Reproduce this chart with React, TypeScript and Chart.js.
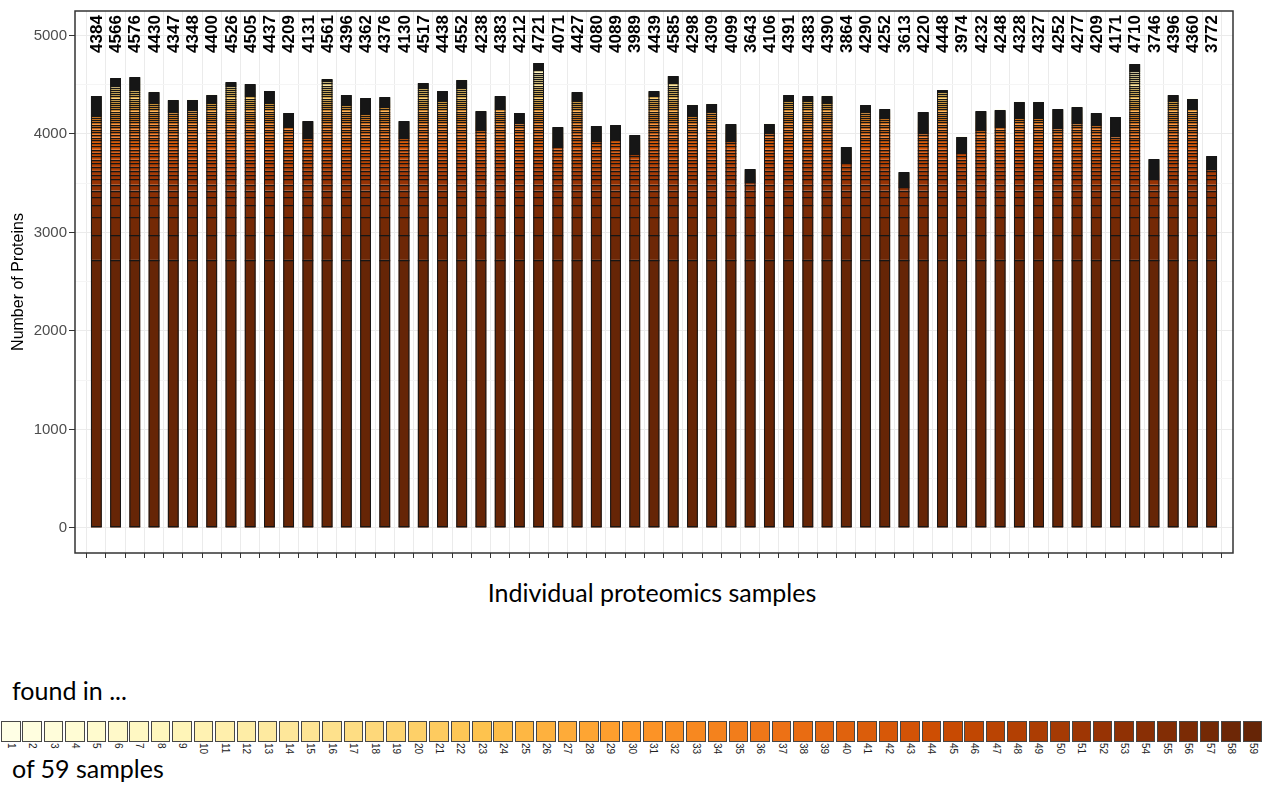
import React, { useEffect, useRef } from 'react';
import { Chart, registerables } from 'chart.js';

Chart.register(...registerables);

// ---------------- DATA ----------------
// sample positions (individual proteomics samples, 59 of them)
const samples: number[] = Array.from({ length: 59 }, (_, i) => i + 1);

// total number of proteins per sample (labels above bars)
const totals: number[] = [
  4384, 4566, 4576, 4430, 4347, 4348, 4400, 4526, 4505, 4437,
  4209, 4131, 4561, 4396, 4362, 4376, 4130, 4517, 4438, 4552,
  4238, 4383, 4212, 4721, 4071, 4427, 4080, 4089, 3989, 4439,
  4585, 4298, 4309, 4099, 3643, 4106, 4391, 4383, 4390, 3864,
  4290, 4252, 3613, 4220, 4448, 3974, 4232, 4248, 4328, 4327,
  4252, 4277, 4209, 4171, 4710, 3746, 4396, 4360, 3772,
];

// level (number of proteins) where the frequent-protein (coloured) part of each bar ends;
// above it the rare proteins form the thin, black-outlined cap
const coloredTop: number[] = [
  4197, 4500, 4446, 4315, 4230, 4245, 4320, 4485, 4385, 4315,
  4080, 3960, 4540, 4295, 4215, 4280, 3960, 4475, 4330, 4480,
  4045, 4255, 4110, 4650, 3870, 4330, 3930, 3940, 3800, 4400,
  4530, 4180, 4230, 3930, 3510, 4010, 4345, 4340, 4315, 3710,
  4230, 4165, 3460, 4010, 4430, 3810, 4050, 4085, 4165, 4165,
  4060, 4110, 4095, 3980, 4640, 3540, 4335, 4265, 3640,
];

// "found in k of 59 samples" classes, bottom of the stack first (59 ... 1)
const foundInClasses: number[] = [
  59, 58, 57, 56, 55, 54, 53, 52, 51, 50, 49, 48, 47, 46, 45, 44, 43, 42, 41, 40,
  39, 38, 37, 36, 35, 34, 33, 32, 31, 30, 29, 28, 27, 26, 25, 24, 23, 22, 21, 20,
  19, 18, 17, 16, 15, 14, 13, 12, 11, 10, 9, 8, 7, 6, 5, 4, 3, 2, 1,
];

// typical segment size (proteins per sample) for each class, same order as foundInClasses
const classSizes: number[] = [
  2722, 252, 180, 122, 82, 68, 60, 52, 46, 42,
  40, 38, 36, 35, 34, 33, 32, 31, 30, 29,
  28, 27, 26, 25, 24, 23, 22, 22, 22, 22,
  22, 22, 22, 22, 22, 22, 22, 22, 22, 22,
  22, 22, 22, 22, 22, 22, 22, 22, 22, 22,
  22, 16, 16, 16, 16, 16, 16, 16, 16,
];

// legend classes 1..59
const legendClasses: number[] = foundInClasses.slice().reverse();

const yTicks: number[] = [0, 500, 1000, 1500, 2000, 2500, 3000, 3500, 4000, 4500, 5000];

// ---------------- STYLE ----------------
const YLORBR = ['#ffffe5', '#fff7bc', '#fee391', '#fec44f', '#fe9929', '#ec7014', '#cc4c02', '#993404', '#662506'];
function hexToRgb(h: string) {
  return [parseInt(h.slice(1, 3), 16), parseInt(h.slice(3, 5), 16), parseInt(h.slice(5, 7), 16)];
}
function paletteAt(t: number): string {
  const pos = t * (YLORBR.length - 1);
  const i = Math.min(Math.floor(pos), YLORBR.length - 2);
  const f = pos - i;
  const a = hexToRgb(YLORBR[i]);
  const b = hexToRgb(YLORBR[i + 1]);
  const c = a.map((v, j) => Math.round(v + (b[j] - v) * f));
  return `rgb(${c[0]},${c[1]},${c[2]})`;
}
function colorForClass(k: number) {
  return paletteAt((k - 1) / 58);
}

const SANS = '"Liberation Sans", Arial, sans-serif';
const TEXT_FONT = 'Lato, "Open Sans", sans-serif';
const LABEL_Y = 5015;

// build per-sample stacked values: fill classes from 59 downward up to coloredTop,
// rare remainder shared by the classes left above it
function buildStacks(): number[][] {
  const res: number[][] = foundInClasses.map(() => samples.map(() => 0));
  samples.forEach((_, s) => {
    const top = coloredTop[s];
    let acc = 0;
    let c = 0;
    for (; c < foundInClasses.length; c++) {
      const size = classSizes[c];
      if (acc + size >= top) {
        res[c][s] = top - acc;
        acc = top;
        c++;
        break;
      }
      res[c][s] = size;
      acc += size;
    }
    const restCount = foundInClasses.length - c;
    const cap = totals[s] - acc;
    if (restCount > 0) {
      for (let j = c; j < foundInClasses.length; j++) res[j][s] = cap / restCount;
    } else {
      res[foundInClasses.length - 1][s] += cap;
    }
  });
  return res;
}

// outline each stacked segment (like ggplot colour = "black")
const segmentOutlinePlugin = {
  id: 'segmentOutline',
  afterDatasetsDraw(chart: any) {
    const { ctx } = chart;
    const n = chart.data.datasets.length;
    ctx.save();
    ctx.strokeStyle = '#161616';
    samples.forEach((_, i) => {
      const first = chart.getDatasetMeta(0).data[i];
      const last = chart.getDatasetMeta(n - 1).data[i];
      if (!first || !last) return;
      const half = first.width / 2;
      const x0 = first.x - half;
      const x1 = first.x + half;
      ctx.lineWidth = 1.25;
      ctx.beginPath();
      for (let d = 0; d < n; d++) {
        const el = chart.getDatasetMeta(d).data[i];
        const yy = Math.round(el.y) + 0.5;
        ctx.moveTo(x0, yy);
        ctx.lineTo(x1, yy);
      }
      const yb = Math.round(first.base) - 0.5;
      ctx.moveTo(x0, yb);
      ctx.lineTo(x1, yb);
      ctx.stroke();
      ctx.lineWidth = 1;
      ctx.beginPath();
      const yt = Math.round(last.y) + 0.5;
      ctx.rect(x0 + 0.5, yt, x1 - x0 - 1, yb - yt);
      ctx.stroke();
    });
    ctx.restore();
  },
};

const totalsLabelPlugin = {
  id: 'totalsLabels',
  afterDatasetsDraw(chart: any) {
    const { ctx, scales } = chart;
    const x = scales.x;
    const y = scales.y;
    ctx.save();
    ctx.font = `bold 17px ${SANS}`;
    ctx.fillStyle = '#000';
    ctx.textAlign = 'center';
    ctx.textBaseline = 'middle';
    totals.forEach((t, i) => {
      const px = x.getPixelForValue(samples[i]);
      const py = y.getPixelForValue(LABEL_Y);
      ctx.save();
      ctx.translate(px, py);
      ctx.rotate(-Math.PI / 2);
      ctx.fillText(String(t), 0, 1);
      ctx.restore();
    });
    ctx.restore();
  },
};

const panelBorderPlugin = {
  id: 'panelBorder',
  afterDraw(chart: any) {
    const { ctx, chartArea } = chart;
    ctx.save();
    ctx.strokeStyle = '#333333';
    ctx.lineWidth = 1.5;
    ctx.strokeRect(chartArea.left, chartArea.top, chartArea.right - chartArea.left, chartArea.bottom - chartArea.top);
    ctx.restore();
  },
};

function ProteinChart() {
  const ref = useRef<HTMLCanvasElement | null>(null);
  useEffect(() => {
    if (!ref.current) return;
    const stacks = buildStacks();
    const datasets = foundInClasses.map((k, c) => ({
      label: String(k),
      data: samples.map((s, i) => ({ x: s, y: stacks[c][i] })),
      backgroundColor: colorForClass(k),
      borderWidth: 0,
      barPercentage: 0.56,
      categoryPercentage: 1,
    }));
    const chart = new Chart(ref.current, {
      type: 'bar',
      data: { datasets },
      options: {
        animation: false,
        responsive: false,
        devicePixelRatio: 1,
        events: [],
        layout: { padding: { top: 7, right: 39, left: 0, bottom: 0 } },
        plugins: { legend: { display: false }, tooltip: { enabled: false } },
        scales: {
          x: {
            type: 'linear',
            stacked: true,
            min: 0.4,
            max: 59.6,
            afterBuildTicks: (s: any) => {
              s.ticks = samples.map((v) => ({ value: v }));
            },
            afterFit: (s: any) => {
              s.height = 17;
            },
            ticks: { callback: () => '', font: { size: 6 } },
            grid: { color: '#EBEBEB', lineWidth: 1, drawTicks: true, tickLength: 5, tickColor: '#333333' },
            border: { display: false },
          },
          y: {
            stacked: true,
            min: -255,
            max: 5249,
            afterBuildTicks: (s: any) => {
              s.ticks = yTicks.map((v) => ({ value: v }));
            },
            afterFit: (s: any) => {
              s.width = 75;
            },
            ticks: {
              callback: (v: any) => (Number(v) % 1000 === 0 ? String(v) : ''),
              color: '#4D4D4D',
              font: { family: SANS, size: 15 },
              padding: 2,
            },
            grid: {
              color: (c: any) => (c.tick && c.tick.value % 1000 === 0 ? '#EBEBEB' : '#F5F5F5'),
              tickColor: (c: any) => (c.tick && c.tick.value % 1000 === 0 ? '#333333' : 'rgba(0,0,0,0)'),
              tickLength: 6,
              lineWidth: 1,
            },
            border: { display: false },
            title: {
              display: true,
              text: 'Number of Proteins',
              color: '#000',
              font: { family: SANS, size: 16 },
              padding: { top: 9, bottom: 0 },
            },
          },
        },
      },
      plugins: [segmentOutlinePlugin, totalsLabelPlugin, panelBorderPlugin],
    });
    return () => chart.destroy();
  }, []);
  return <canvas ref={ref} width={1272} height={570} style={{ position: 'absolute', left: 0, top: 0, width: 1272, height: 570 }} />;
}

export default function App() {
  useEffect(() => {
    document.body.style.margin = '0';
  }, []);
  const pitch = 21.41;
  return (
    <div style={{ position: 'relative', width: 1272, height: 787, background: '#fff', overflow: 'hidden' }}>
      <ProteinChart />
      <div
        style={{
          position: 'absolute',
          left: 402,
          width: 500,
          top: 576,
          textAlign: 'center',
          fontFamily: TEXT_FONT,
          fontSize: 25,
          color: '#000',
          lineHeight: '32px',
        }}
      >
        Individual proteomics samples
      </div>
      <div
        style={{
          position: 'absolute',
          left: 12,
          top: 674,
          fontFamily: TEXT_FONT,
          fontSize: 25,
          lineHeight: '32px',
          color: '#000',
        }}
      >
        found in ...
      </div>
      {legendClasses.map((k, i) => (
        <React.Fragment key={k}>
          <div
            style={{
              position: 'absolute',
              left: 1 + i * pitch,
              top: 721,
              width: 19.5,
              height: 20.5,
              boxSizing: 'border-box',
              border: '1.5px solid #474747',
              background: colorForClass(k),
            }}
          />
          <div
            style={{
              position: 'absolute',
              left: 1 + i * pitch + 9.75 - 6,
              top: 743,
              width: 12,
              writingMode: 'vertical-rl',
              fontFamily: SANS,
              fontSize: 10,
              lineHeight: '12px',
              color: '#222',
            }}
          >
            {k}
          </div>
        </React.Fragment>
      ))}
      <div
        style={{
          position: 'absolute',
          left: 12,
          top: 752,
          fontFamily: TEXT_FONT,
          fontSize: 25,
          lineHeight: '32px',
          color: '#000',
        }}
      >
        of 59 samples
      </div>
    </div>
  );
}
